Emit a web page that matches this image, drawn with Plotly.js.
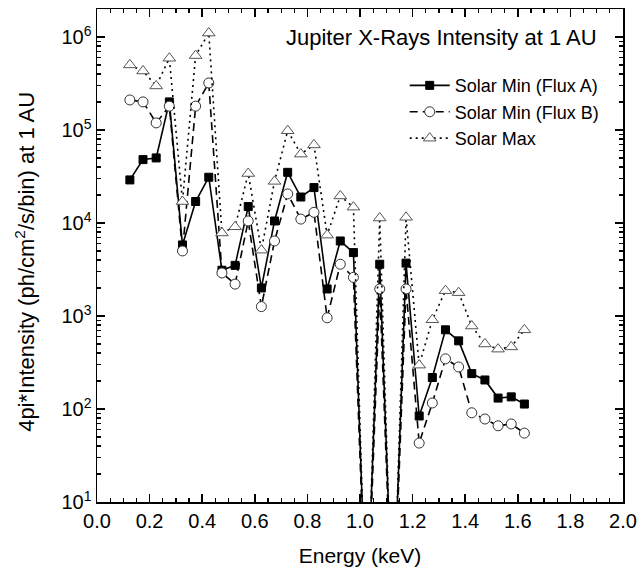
<!DOCTYPE html>
<html>
<head>
<meta charset="utf-8">
<script src="https://cdn.plot.ly/plotly-3.0.1.min.js"></script>
<style>html,body{margin:0;padding:0;background:#fff;}#chart{width:640px;height:580px;}</style>
</head>
<body>
<div id="chart"></div>
<script>
const energy = [0.125,0.175,0.225,0.275,0.325,0.375,0.425,0.475,0.525,0.575,0.625,0.675,0.725,0.775,0.825,0.875,0.925,0.975,1.025,1.075,1.125,1.175,1.225,1.275,1.325,1.375,1.425,1.475,1.525,1.575,1.625];
const fluxA = [2.9e4,4.8e4,5.0e4,2.0e5,5.8e3,1.7e4,3.1e4,3.1e3,3.5e3,1.5e4,2.0e3,1.05e4,3.5e4,1.9e4,2.4e4,1.95e3,6.4e3,4.8e3,0.45,3.6e3,0.45,3.7e3,84,218,710,540,240,205,131,135,113];
const fluxB = [2.1e5,2.0e5,1.19e5,1.8e5,5.0e3,1.8e5,3.2e5,2.9e3,2.2e3,1.05e4,1.26e3,6.4e3,2.05e4,1.1e4,1.3e4,955,3.6e3,2.6e3,0.35,1.95e3,0.35,1.95e3,43,116,346,283,91,78,66,69,55];
const solarMax = [5.0e5,4.3e5,2.97e5,5.9e5,1.7e4,6.3e5,1.1e6,7.8e3,9.1e3,3.4e4,5.1e3,2.8e4,9.8e4,5.5e4,6.9e4,7.4e3,1.95e4,1.48e4,0.3,1.13e4,0.3,1.15e4,296,910,1.87e3,1.78e3,780,500,440,465,710];
const seriesNames = ["Solar Min (Flux A)","Solar Min (Flux B)","Solar Max"];
const yTickVals = [10,100,1000,10000,100000,1000000];
const yTickText = ["10<sup>1</sup>","10<sup>2</sup>","10<sup>3</sup>","10<sup>4</sup>","10<sup>5</sup>","10<sup>6</sup>"];

const font = "Liberation Sans, Arial, sans-serif";
const traces = [
  {x: energy, y: fluxA, name: seriesNames[0], mode: "lines+markers",
   line: {color: "#000", width: 1.6, dash: "solid"},
   marker: {symbol: "square", size: 8, color: "#000", line: {color: "#000", width: 1}}},
  {x: energy, y: fluxB, name: seriesNames[1], mode: "lines+markers",
   line: {color: "#000", width: 1.6, dash: "8px,5px"},
   marker: {symbol: "circle", size: 10, color: "#fff", line: {color: "#333", width: 1}}},
  {x: energy, y: solarMax, name: seriesNames[2], mode: "lines+markers",
   line: {color: "#000", width: 1.6, dash: "2px,4px"},
   marker: {symbol: "triangle-up", size: 11, color: "#fff", line: {color: "#555", width: 1}}}
];

const layout = {
  width: 640, height: 580,
  margin: {l: 97, r: 17, t: 9, b: 78},
  paper_bgcolor: "#fff", plot_bgcolor: "#fff",
  font: {family: font, size: 20, color: "#000"},
  showlegend: true,
  legend: {x: 0.585, y: 0.882, xanchor: "left", yanchor: "top", bgcolor: "rgba(0,0,0,0)",
           font: {family: font, size: 18, color: "#000"}, itemwidth: 40, tracegroupgap: 0},
  xaxis: {range: [0, 2], dtick: 0.2, tick0: 0, tickformat: ".1f",
          showline: true, linecolor: "#000", linewidth: 1.5, mirror: "allticks",
          ticks: "inside", ticklen: 8, tickwidth: 1.5, tickcolor: "#000",
          minor: {dtick: 0.05, ticks: "inside", ticklen: 4, tickwidth: 1.2, tickcolor: "#000"},
          showgrid: false, zeroline: false,
          tickfont: {family: font, size: 20},
          title: {text: "Energy (keV)", font: {family: font, size: 21}, standoff: 18}},
  yaxis: {type: "log", range: [1, 6.3], tickmode: "array", tickvals: yTickVals, ticktext: yTickText,
          showline: true, linecolor: "#000", linewidth: 1.5, mirror: "allticks",
          ticks: "inside", ticklen: 8, tickwidth: 1.5, tickcolor: "#000",
          minor: {dtick: "D1", ticks: "inside", ticklen: 4, tickwidth: 1.2, tickcolor: "#000"},
          showgrid: false, zeroline: false,
          tickfont: {family: font, size: 20}},
  annotations: [
    {text: "Jupiter X-Rays Intensity at 1 AU", xref: "paper", yref: "paper",
     x: 0.955, y: 0.943, xanchor: "right", yanchor: "middle", showarrow: false,
     font: {family: font, size: 22, color: "#000"}},
    {text: "4pi*Intensity (ph/cm<sup>2</sup>/s/bin) at 1 AU", xref: "paper", yref: "paper",
     x: -0.137, y: 0.487, xanchor: "center", yanchor: "middle", textangle: -90, showarrow: false,
     font: {family: font, size: 22, color: "#000"}}
  ]
};

Plotly.newPlot("chart", traces, layout, {displayModeBar: false, staticPlot: true});
</script>
</body>
</html>
